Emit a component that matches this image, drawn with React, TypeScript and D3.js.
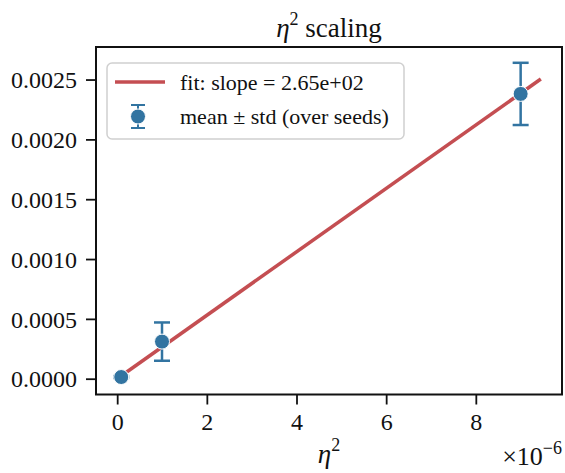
import React, { useRef, useEffect } from 'react'
import * as d3 from 'd3'

// eta^2 values and measured loss (mean / std over seeds)
const eta2 = [9e-8, 1e-6, 9e-6]
const meanLoss = [0.000014, 0.00031, 0.00238]
const stdLoss = [0.000008, 0.00016, 0.00026]

// fitted line through origin
const fitSlope = 265
const fitX = [0, 9.45e-6]

const xTicks = [0, 2e-6, 4e-6, 6e-6, 8e-6]
const yTicks = [0, 0.0005, 0.001, 0.0015, 0.002, 0.0025]

const W = 565
const H = 473
const left = 96
const right = 562
const top = 47
const bottom = 394.5

const blue = '#3274a1'
const red = '#c44e52'
const font = '"Liberation Serif", "DejaVu Serif", serif'

const App = () => {
  const svgRef = useRef<SVGSVGElement>(null)

  useEffect(() => {
    const svg = d3.select(svgRef.current)
    svg.selectAll('*').remove()

    // matplotlib-style 5% margins around data
    const xs = [...eta2, ...fitX]
    const ys = [
      ...meanLoss.map((m, i) => m - stdLoss[i]),
      ...meanLoss.map((m, i) => m + stdLoss[i]),
      ...fitX.map((x) => x * fitSlope),
    ]
    const xMin = d3.min(xs)!, xMax = d3.max(xs)!
    const yMin = d3.min(ys)!, yMax = d3.max(ys)!
    const dx = (xMax - xMin) * 0.05
    const dy = (yMax - yMin) * 0.05

    const x = d3.scaleLinear().domain([xMin - dx, xMax + dx]).range([left, right])
    const y = d3.scaleLinear().domain([yMin - dy, yMax + dy]).range([bottom, top])

    // axes
    const xAxis = svg
      .append('g')
      .attr('transform', `translate(0,${bottom})`)
      .call(
        d3.axisBottom(x).tickValues(xTicks).tickSize(10).tickPadding(8)
          .tickFormat((d) => d3.format('d')(Math.round(+d * 1e6)))
      )
    const yAxis = svg
      .append('g')
      .attr('transform', `translate(${left},0)`)
      .call(
        d3.axisLeft(y).tickValues(yTicks).tickSize(10).tickPadding(9)
          .tickFormat(d3.format('.4f'))
      )
    for (const ax of [xAxis, yAxis]) {
      ax.select('.domain').remove()
      ax.selectAll('line').attr('stroke', '#111').attr('stroke-width', 1.8)
      ax.selectAll('text')
        .attr('font-family', font)
        .attr('font-size', 24)
        .attr('fill', '#111')
    }
    yAxis.selectAll('text').attr('dy', '0.34em')

    // fit line
    svg
      .append('line')
      .attr('x1', x(fitX[0]))
      .attr('y1', y(fitX[0] * fitSlope))
      .attr('x2', x(fitX[1]))
      .attr('y2', y(fitX[1] * fitSlope))
      .attr('stroke', red)
      .attr('stroke-width', 3.5)

    // error bars + markers
    const pts = svg.append('g')
    eta2.forEach((e, i) => {
      const cx = x(e)
      const y0 = y(meanLoss[i] - stdLoss[i])
      const y1 = y(meanLoss[i] + stdLoss[i])
      pts.append('line').attr('x1', cx).attr('x2', cx).attr('y1', y0).attr('y2', y1)
        .attr('stroke', blue).attr('stroke-width', 2.5)
      for (const yy of [y0, y1]) {
        pts.append('line').attr('x1', cx - 8).attr('x2', cx + 8).attr('y1', yy).attr('y2', yy)
          .attr('stroke', blue).attr('stroke-width', 2.5)
      }
    })
    pts
      .selectAll('circle')
      .data(eta2)
      .enter()
      .append('circle')
      .attr('cx', (d) => x(d))
      .attr('cy', (d, i) => y(meanLoss[i]))
      .attr('r', 7.5)
      .attr('fill', blue)
      .attr('stroke', '#fff')
      .attr('stroke-width', 1)

    // frame
    svg
      .append('rect')
      .attr('x', left)
      .attr('y', top)
      .attr('width', right - left)
      .attr('height', bottom - top)
      .attr('fill', 'none')
      .attr('stroke', '#111')
      .attr('stroke-width', 2)

    // legend
    const lg = svg.append('g')
    lg.append('rect')
      .attr('x', 107).attr('y', 63).attr('width', 297).attr('height', 76).attr('rx', 5)
      .attr('fill', '#fff').attr('fill-opacity', 0.8)
      .attr('stroke', '#d0d0d0').attr('stroke-width', 1.5)
    lg.append('line').attr('x1', 115).attr('x2', 165).attr('y1', 82).attr('y2', 82)
      .attr('stroke', red).attr('stroke-width', 3.5)
    lg.append('line').attr('x1', 138).attr('x2', 138).attr('y1', 105).attr('y2', 128)
      .attr('stroke', blue).attr('stroke-width', 2)
    for (const yy of [105, 128]) {
      lg.append('line').attr('x1', 131).attr('x2', 145).attr('y1', yy).attr('y2', yy)
        .attr('stroke', blue).attr('stroke-width', 2)
    }
    lg.append('circle').attr('cx', 138).attr('cy', 116.5).attr('r', 7.5)
      .attr('fill', blue).attr('stroke', '#fff').attr('stroke-width', 1)
    lg.append('text').attr('x', 180).attr('y', 90).text('fit: slope = 2.65e+02')
      .attr('font-family', font).attr('font-size', 22).attr('fill', '#111')
    lg.append('text').attr('x', 180).attr('y', 124).text('mean ± std (over seeds)')
      .attr('font-family', font).attr('font-size', 22).attr('fill', '#111')

    // title
    const title = svg.append('text').attr('x', (left + right) / 2).attr('y', 37)
      .attr('text-anchor', 'middle').attr('font-family', font).attr('font-size', 27).attr('fill', '#111')
    title.append('tspan').attr('font-style', 'italic').text('η')
    title.append('tspan').attr('font-size', 18).attr('dy', -12).text('2')
    title.append('tspan').attr('dy', 12).text(' scaling')

    // x label
    const xl = svg.append('text').attr('x', (left + right) / 2).attr('y', 463)
      .attr('text-anchor', 'middle').attr('font-family', font).attr('font-size', 27).attr('fill', '#111')
    xl.append('tspan').attr('font-style', 'italic').text('η')
    xl.append('tspan').attr('font-size', 18).attr('dy', -12).text('2')

    // offset text
    const off = svg.append('text').attr('x', right).attr('y', 465)
      .attr('text-anchor', 'end').attr('font-family', font).attr('font-size', 26).attr('fill', '#111')
    off.append('tspan').text('×10')
    off.append('tspan').attr('font-size', 18).attr('dy', -11).text('−6')
  }, [])

  return (
    <svg
      ref={svgRef}
      width={W}
      height={H}
      style={{ position: 'absolute', left: 0, top: 0, background: '#fff' }}
    />
  )
}

export default App
